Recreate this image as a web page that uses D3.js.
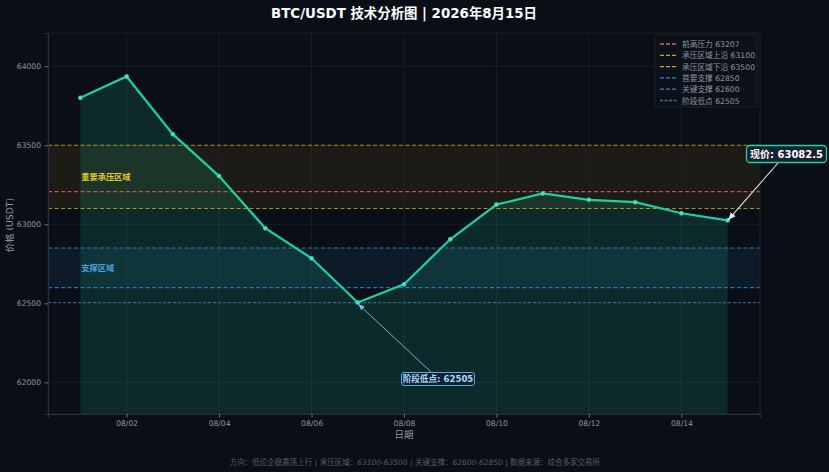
<!DOCTYPE html>
<html><head><meta charset="utf-8">
<script src="https://cdn.jsdelivr.net/npm/d3@7"></script>
<style>
html,body{margin:0;padding:0;background:#0a0e16;}
svg{display:block;}
text{font-family:"DejaVu Sans","Noto Sans CJK SC",sans-serif;}
</style></head>
<body>
<svg id="c" width="829" height="472"></svg>
<script>
const dates = ["08/01","08/02","08/03","08/04","08/05","08/06","08/07","08/08","08/09","08/10","08/11","08/12","08/13","08/14","08/15"];
const prices = [63800,63935,63570,63305,62975,62785,62505,62620,62905,63125,63195,63155,63140,63070,63025];
const xTickLabels = ["08/02","08/04","08/06","08/08","08/10","08/12","08/14"];
const yTicks = [62000,62500,63000,63500,64000];
const levelNames = ["前高压力","承压区域上沿","承压区域下沿","首要支撑","关键支撑","阶段低点"];
const levelValues = [63207,63100,63500,62850,62600,62505];
const levelColors = ["#e05f5d","#c9a227","#c9a227","#2f86c4","#2f86c4","#3a6f9c"];
const zoneNames = ["重要承压区域","支撑区域"];
const zoneRanges = [[63100,63500],[62600,62850]];
const zoneColors = ["rgba(241,196,15,0.08)","rgba(52,152,219,0.10)"];
const zoneTextColors = ["#e8c62e","#4aa3df"];
const currentPrice = 63082.5;
const lowValue = 62505;

const svg = d3.select("#c");
const W=829,H=472;
const M={l:48,r:760,t:33,b:414};
svg.append("rect").attr("width",W).attr("height",H).attr("fill","#0a0e16");

const parse = d3.timeParse("%m/%d/%Y");
const dd = dates.map(s=>parse(s+"/2026"));
const day = 86400000;
const x = d3.scaleTime().domain([new Date(+dd[0]-0.7*day), new Date(+dd[dd.length-1]+0.7*day)]).range([M.l,M.r]);
const y = d3.scaleLinear().domain([61800,64210]).range([M.b,M.t]);

// zones
zoneRanges.forEach((z,i)=>{
  svg.append("rect").attr("x",M.l).attr("width",M.r-M.l)
    .attr("y",y(z[1])).attr("height",y(z[0])-y(z[1])).attr("fill",zoneColors[i]);
});

// grid
const xt = xTickLabels.map(s=>parse(s+"/2026"));
const g = svg.append("g");
xt.forEach(t=>g.append("line").attr("x1",x(t)).attr("x2",x(t)).attr("y1",M.t).attr("y2",M.b).attr("stroke","#222a35").attr("stroke-width",0.8).attr("stroke-opacity",0.7));
yTicks.forEach(v=>g.append("line").attr("x1",M.l).attr("x2",M.r).attr("y1",y(v)).attr("y2",y(v)).attr("stroke","#222a35").attr("stroke-width",0.8).attr("stroke-opacity",0.7));

// area
const pts = dd.map((d,i)=>[d,prices[i]]);
svg.append("path").datum(pts)
  .attr("d",d3.area().x(d=>x(d[0])).y0(M.b).y1(d=>y(d[1])))
  .attr("fill","rgba(29,209,161,0.15)");

// level lines
levelValues.forEach((v,i)=>{
  svg.append("line").attr("x1",M.l).attr("x2",M.r).attr("y1",y(v)).attr("y2",y(v))
   .attr("stroke",levelColors[i]).attr("stroke-width",i==5?1:1.2)
   .attr("stroke-dasharray",i==5?"3,2":"4,2.5").attr("opacity",i==5?0.9:0.85);
});

// spines
svg.append("rect").attr("x",M.l).attr("y",M.t).attr("width",M.r-M.l).attr("height",M.b-M.t)
  .attr("fill","none").attr("stroke","#1f2630").attr("stroke-width",0.8);

// line
svg.append("path").datum(pts)
  .attr("d",d3.line().x(d=>x(d[0])).y(d=>y(d[1])))
  .attr("fill","none").attr("stroke","#1dd1a1").attr("stroke-width",2.2);
svg.selectAll(".pt").data(pts).enter().append("circle")
  .attr("cx",d=>x(d[0])).attr("cy",d=>y(d[1])).attr("r",2)
  .attr("fill","#6fd9bf").attr("stroke","#1dd1a1").attr("stroke-width",0.8);

// axes
const axX = svg.append("g").attr("transform",`translate(0,${M.b})`)
  .call(d3.axisBottom(x).tickValues(xt).tickFormat(d3.timeFormat("%m/%d")).tickSize(3.5).tickPadding(3));
const axY = svg.append("g").attr("transform",`translate(${M.l},0)`)
  .call(d3.axisLeft(y).tickValues(yTicks).tickFormat(d3.format("d")).tickSize(3.5).tickPadding(3.5));
[axX,axY].forEach(a=>{
  a.select(".domain").attr("stroke","#2a313c");
  a.selectAll(".tick line").attr("stroke","#6c737d");
  a.selectAll(".tick text").attr("fill","#8f969f").attr("font-size","7.6px")
   .attr("font-family","'DejaVu Sans',sans-serif");
});

svg.append("text").attr("x",404).attr("y",438).attr("text-anchor","middle")
  .attr("fill","#8f969f").attr("font-size","9.5px").text("日期");
svg.append("text").attr("transform","translate(13,225) rotate(-90)").attr("text-anchor","middle")
  .attr("fill","#8f969f").attr("font-size","9.3px").text("价格 (USDT)");

// title
svg.append("text").attr("x",404).attr("y",18).attr("text-anchor","middle")
  .attr("fill","#ffffff").attr("font-size","13.4px").attr("font-weight","bold")
  .text("BTC/USDT 技术分析图 | 2026年8月15日");

// zone labels
zoneNames.forEach((n,i)=>{
  svg.append("text").attr("x",x(dd[0])+1).attr("y",y((zoneRanges[i][0]+zoneRanges[i][1])/2)+3.3)
    .attr("fill",zoneTextColors[i]).attr("font-size","8.2px").attr("font-weight","bold")
    .attr("font-family","'Noto Serif CJK SC','Noto Sans CJK SC',serif").text(n);
});

// legend
const lg = svg.append("g");
lg.append("rect").attr("x",655).attr("y",35).attr("width",102).attr("height",72).attr("rx",2)
  .attr("fill","#0c111a").attr("stroke","#232a35").attr("stroke-width",0.8).attr("opacity",0.9);
levelNames.forEach((n,i)=>{
  const yy = 44 + i*11.3;
  lg.append("line").attr("x1",660).attr("x2",677).attr("y1",yy).attr("y2",yy)
    .attr("stroke",levelColors[i]).attr("stroke-width",1.3).attr("stroke-dasharray",i==5?"3,1.5":"4,2");
  lg.append("text").attr("x",682).attr("y",yy+3).attr("fill","#8f969f").attr("font-size","7.7px")
    .text(n+" "+levelValues[i]);
});

// annotations
const defs = svg.append("defs");
function marker(id,color){
  defs.append("marker").attr("id",id).attr("viewBox","0 0 10 10").attr("refX",9).attr("refY",5)
   .attr("markerWidth",7).attr("markerHeight",7).attr("orient","auto-start-reverse")
   .append("path").attr("d","M0,1 L10,5 L0,9 Z").attr("fill",color);
}
marker("aw","#e6e6e6"); marker("ab","#7cc0ea");

// low annotation
const lowIdx = prices.indexOf(lowValue);
const lx = x(dd[lowIdx]), ly = y(lowValue);
svg.append("line").attr("x1",431).attr("x2",lx+1).attr("y1",372).attr("y2",ly+2)
  .attr("stroke","#7cc0ea").attr("stroke-width",0.9).attr("marker-end","url(#ab)");
svg.append("rect").attr("x",401.5).attr("y",372.5).attr("width",73).attr("height",13).attr("rx",2.5)
  .attr("fill","#0f2234").attr("stroke","#5ea6d6").attr("stroke-width",1);
svg.append("text").attr("x",438).attr("y",382.3).attr("text-anchor","middle")
  .attr("fill","#a9d8f7").attr("font-size","8.6px").attr("font-weight","bold").text("阶段低点: "+lowValue);

// current price annotation
const cx = x(dd[dd.length-1]), cy = y(prices[prices.length-1]);
svg.append("line").attr("x1",778).attr("x2",cx+1).attr("y1",163).attr("y2",cy-1)
  .attr("stroke","#e6e6e6").attr("stroke-width",1.1).attr("marker-end","url(#aw)");
svg.append("rect").attr("x",746.5).attr("y",145.5).attr("width",80).attr("height",17).attr("rx",3.5)
  .attr("fill","#172230").attr("stroke","#1dd1a1").attr("stroke-width",1.3);
svg.append("text").attr("x",786.5).attr("y",157.8).attr("text-anchor","middle")
  .attr("fill","#ffffff").attr("font-size","10px").attr("font-weight","bold").text("现价: "+currentPrice);

// footer
const ft = svg.append("text").attr("x",415).attr("y",465).attr("text-anchor","middle")
  .attr("fill","#545c68").attr("font-size","7.5px");
const parts = [["方向：低位企稳震荡上行 | 承压区域：",false],["63100-63500",true],[" | 关键支撑：",false],["62600-62850",true],[" | 数据来源：综合多家交易所",false]];
parts.forEach(p=>ft.append("tspan").attr("font-style",p[1]?"italic":"normal").text(p[0]));
</script>
</body></html>
